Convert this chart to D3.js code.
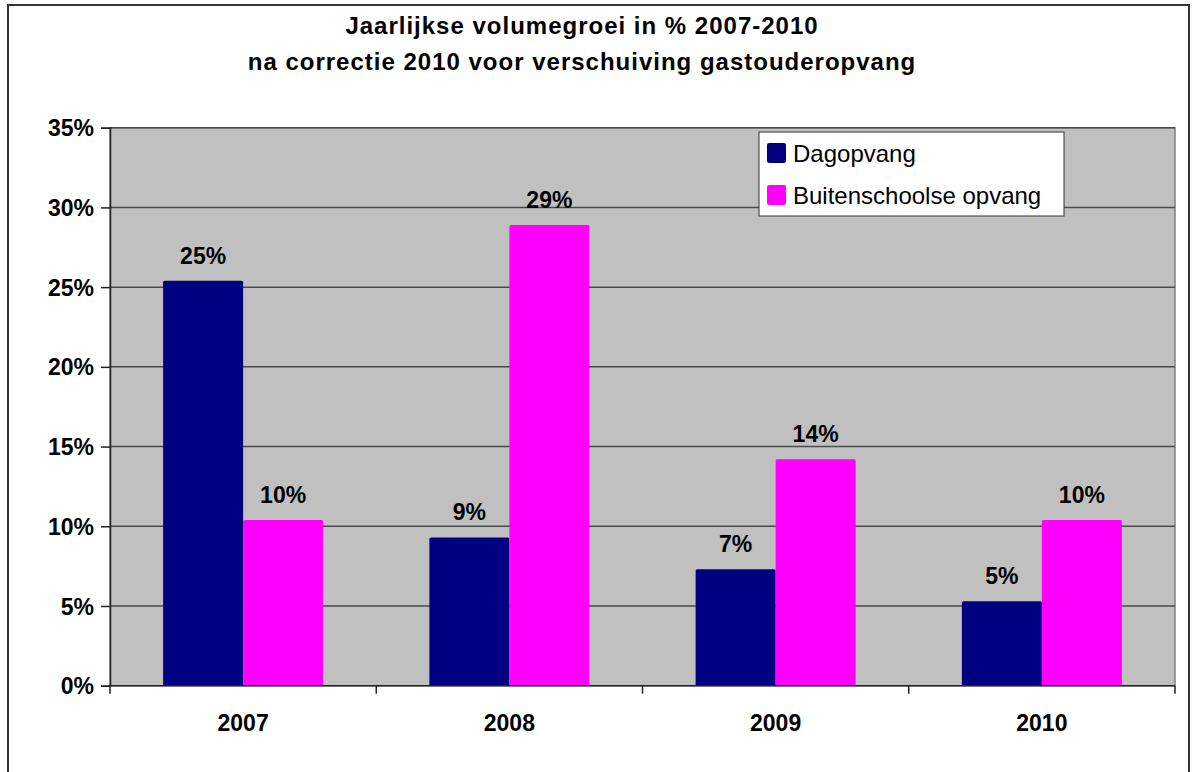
<!DOCTYPE html>
<html>
<head>
<meta charset="utf-8">
<script src="https://cdn.jsdelivr.net/npm/d3@7"></script>
<style>
  body { margin: 0; background: #fff; }
  text { font-family: "Liberation Sans", Arial, sans-serif; }
</style>
</head>
<body>
<script>
var years = ["2007", "2008", "2009", "2010"];
var series = ["Dagopvang", "Buitenschoolse opvang"];
var dagopvang = [25.4, 9.3, 7.3, 5.3];
var buitenschoolse = [10.4, 28.9, 14.2, 10.4];
var colors = ["#000080", "#ff00ff"];
var yTicks = [0, 5, 10, 15, 20, 25, 30, 35];
var titleLines = ["Jaarlijkse volumegroei in % 2007-2010",
                  "na correctie 2010 voor verschuiving gastouderopvang"];

var width = 1196,
    height = 772;

var plot = {left: 110, top: 127.7, right: 1175, bottom: 685.7};

var svg = d3.select("body").append("svg")
    .attr("width", width)
    .attr("height", height);

// chart frame
svg.append("rect")
    .attr("x", 8).attr("y", 5)
    .attr("width", 1181).attr("height", 800)
    .attr("fill", "#fff")
    .attr("stroke", "#333")
    .attr("stroke-width", 2);

// title
svg.selectAll("text.title")
    .data(titleLines)
  .enter().append("text")
    .attr("class", "title")
    .attr("x", 582)
    .attr("y", function(d, i) { return 34 + i * 36; })
    .attr("text-anchor", "middle")
    .style("font-size", "24px")
    .style("font-weight", "bold")
    .style("letter-spacing", "1px")
    .text(function(d) { return d; });

var x0 = d3.scaleBand()
    .domain(years)
    .range([plot.left, plot.right]);

var x1 = d3.scaleBand()
    .domain(series)
    .range([0, x0.bandwidth()])
    .paddingOuter(0.664);

var y = d3.scaleLinear()
    .domain([0, 35])
    .range([plot.bottom, plot.top]);

// plot background
svg.append("rect")
    .attr("x", plot.left).attr("y", plot.top)
    .attr("width", plot.right - plot.left)
    .attr("height", plot.bottom - plot.top)
    .attr("fill", "#c0c0c0")
    .attr("stroke", "#808080")
    .attr("stroke-width", 1.5);

// gridlines
svg.selectAll("line.grid")
    .data(yTicks.slice(1))
  .enter().append("line")
    .attr("class", "grid")
    .attr("x1", plot.left).attr("x2", plot.right)
    .attr("y1", function(d) { return y(d); })
    .attr("y2", function(d) { return y(d); })
    .attr("stroke", "#4a4a4a")
    .attr("stroke-width", 1.5);

// bars
var data = years.map(function(yr, i) {
  return {year: yr, values: [dagopvang[i], buitenschoolse[i]]};
});

var groups = svg.selectAll("g.year")
    .data(data)
  .enter().append("g")
    .attr("class", "year")
    .attr("transform", function(d) { return "translate(" + x0(d.year) + ",0)"; });

var fmt = d3.format(".0f");

groups.selectAll("rect")
    .data(function(d) { return d.values.map(function(v, j) { return {s: series[j], v: v, c: colors[j]}; }); })
  .enter().append("rect")
    .attr("x", function(d) { return x1(d.s); })
    .attr("y", function(d) { return y(d.v); })
    .attr("width", x1.bandwidth())
    .attr("height", function(d) { return y(0) - y(d.v); })
    .attr("rx", 1.5)
    .attr("fill", function(d) { return d.c; });

groups.selectAll("text")
    .data(function(d) { return d.values.map(function(v, j) { return {s: series[j], v: v}; }); })
  .enter().append("text")
    .attr("x", function(d) { return x1(d.s) + x1.bandwidth() / 2; })
    .attr("y", function(d) { return y(d.v) - 17; })
    .attr("text-anchor", "middle")
    .style("font-size", "23px")
    .style("font-weight", "bold")
    .text(function(d) { return fmt(d.v) + "%"; });

// y axis
var yAxis = svg.append("g")
    .attr("transform", "translate(" + plot.left + ",0)")
    .call(d3.axisLeft(y).tickValues(yTicks).tickSize(9).tickPadding(7)
      .tickFormat(function(d) { return d + "%"; }));
yAxis.select(".domain").attr("stroke", "#222").attr("stroke-width", 1.5);
yAxis.selectAll(".tick line").attr("stroke", "#222").attr("stroke-width", 1.5);
yAxis.selectAll("text")
    .style("font-size", "23px")
    .style("font-weight", "bold")
    .attr("fill", "#000")
    .attr("dy", "0.35em");

// x axis
var xAxis = svg.append("g")
    .attr("transform", "translate(0," + plot.bottom + ")");
xAxis.append("line")
    .attr("x1", plot.left).attr("x2", plot.right)
    .attr("stroke", "#222").attr("stroke-width", 1.5);
xAxis.selectAll("line.tick")
    .data(years.concat(["end"]))
  .enter().append("line")
    .attr("class", "tick")
    .attr("x1", function(d) { return d === "end" ? plot.right : x0(d); })
    .attr("x2", function(d) { return d === "end" ? plot.right : x0(d); })
    .attr("y1", 0).attr("y2", 8)
    .attr("stroke", "#222").attr("stroke-width", 1.5);
xAxis.selectAll("text")
    .data(years)
  .enter().append("text")
    .attr("x", function(d) { return x0(d) + x0.bandwidth() / 2; })
    .attr("y", 45)
    .attr("text-anchor", "middle")
    .style("font-size", "23px")
    .style("font-weight", "bold")
    .text(function(d) { return d; });

// legend
var legend = svg.append("g")
    .attr("transform", "translate(759,132)");
legend.append("rect")
    .attr("width", 305).attr("height", 84)
    .attr("fill", "#fff")
    .attr("stroke", "#333")
    .attr("stroke-width", 1);
var items = legend.selectAll("g.item")
    .data(series)
  .enter().append("g")
    .attr("class", "item")
    .attr("transform", function(d, i) { return "translate(8," + (11 + i * 42) + ")"; });
items.append("rect")
    .attr("width", 19).attr("height", 20)
    .attr("rx", 2)
    .attr("fill", function(d, i) { return colors[i]; });
items.append("text")
    .attr("x", 26)
    .attr("y", 19)
    .style("font-size", "24px")
    .text(function(d) { return d; });
</script>
</body>
</html>
